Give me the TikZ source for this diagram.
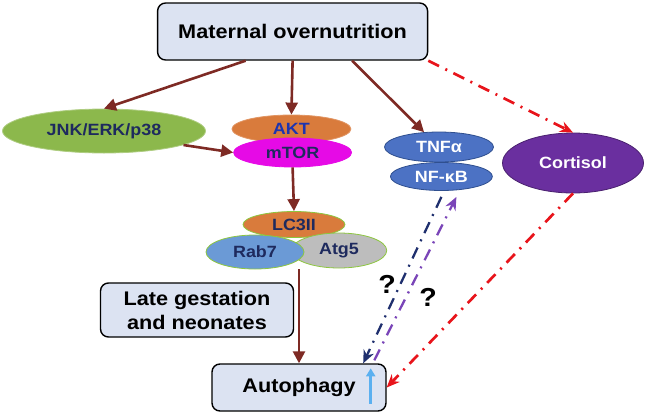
\documentclass[tikz,border=0pt]{standalone}
\usepackage{fontspec}
\setmainfont[FakeStretch=1.1]{Liberation Sans}
\usetikzlibrary{shapes.geometric,arrows.meta}
\definecolor{boxfill}{HTML}{DCE3F2}
\definecolor{linkred}{HTML}{7E2A24}
\definecolor{alarmred}{HTML}{E8141B}
\definecolor{navytext}{HTML}{1E2A5E}
\definecolor{aktblue}{HTML}{1C34B0}
\definecolor{jnkgreen}{HTML}{8CB84C}
\definecolor{aktorange}{HTML}{D97B3C}
\definecolor{mtormag}{HTML}{E60AE6}
\definecolor{tnfblue}{HTML}{4C72C4}
\definecolor{tnfedge}{HTML}{2F4F8F}
\definecolor{cortpurple}{HTML}{6A2F9F}
\definecolor{rabblue}{HTML}{6B9AD6}
\definecolor{atggray}{HTML}{BDBDBD}
\definecolor{leafgreen}{HTML}{8DC63F}
\definecolor{navydash}{HTML}{1F2F6E}
\definecolor{violetdash}{HTML}{7A45B8}
\definecolor{upblue}{HTML}{5BB0F0}
\begin{document}
\begin{tikzpicture}[x=1pt,y=-1pt,line join=round,
	box/.style={draw=black,line width=1.4pt,rounded corners=8pt,fill=boxfill,inner sep=0pt,
		font=\fontsize{19.7}{24}\selectfont\bfseries,align=center},
	blob/.style={ellipse,inner sep=0pt,line width=0.8pt,font=\fontsize{16.3}{18}\selectfont\bfseries},
	link/.style={draw=linkred,line width=2.6pt,-{Triangle[length=12pt,width=12pt]}},
	dashdot/.style={line width=2.3pt,dash pattern=on 12pt off 7pt on 2pt off 7pt,
		-{Stealth[length=13pt,width=11pt]}},
	query/.style={font=\fontsize{26}{28}\selectfont\bfseries},
	]
	\useasboundingbox (0,0) rectangle (648,413);
	% boxes
	\node[box,minimum width=270pt,minimum height=57pt] (maternal) at (292.6,31.5) {Maternal overnutrition};
	\node[box,minimum width=193pt,minimum height=54pt] (late) at (197,310) {Late gestation\\and neonates};
	\node[box,minimum width=174pt,minimum height=47pt] (autophagy) at (299,387.5) {Autophagy};
	% pathway blobs
	\node[blob,fill=jnkgreen,draw=jnkgreen!70!white,text=navytext,minimum width=203pt,minimum height=44pt] (jnk) at (104,131) {JNK/ERK/p38};
	\node[blob,fill=aktorange,draw=aktorange!80!white,text=aktblue,minimum width=119pt,minimum height=28pt] (akt) at (291.4,129) {AKT};
	\node[blob,fill=mtormag,draw=mtormag,text=navytext,minimum width=118pt,minimum height=29pt] (mtor) at (292.6,152.5) {mTOR};
	\node[blob,fill=tnfblue,draw=tnfedge,text=white,minimum width=109pt,minimum height=30pt] (tnf) at (439,147) {TNFα};
	\node[blob,fill=tnfblue,draw=tnfedge,text=white,minimum width=102pt,minimum height=28pt] (nfkb) at (441.4,176.5) {NF-κB};
	\node[blob,fill=cortpurple,draw=cortpurple!70!black,text=white,minimum width=141pt,minimum height=60pt] (cortisol) at (573,163) {Cortisol};
	\node[blob,fill=aktorange,draw=leafgreen,text=navytext,minimum width=102pt,minimum height=26pt] (lc3) at (294,224.5) {LC3II};
	\node[blob,fill=atggray,draw=leafgreen,text=navytext,minimum width=95.5pt,minimum height=35pt] (atg5) at (339,250.5) {Atg5};
	\node[blob,fill=rabblue,draw=leafgreen,text=navytext,minimum width=98pt,minimum height=34pt] (rab7) at (255,252) {Rab7};
	% solid links
	\draw[link] ([xshift=-47pt]maternal.south) -- (jnk.north);
	\draw[link] (maternal.south) -- (akt.north);
	\draw[link] ([xshift=59.5pt]maternal.south) -- (tnf);
	\draw[link] (jnk.-10) -- (mtor.west);
	\draw[link] (mtor.south) -- (lc3.north);
	\draw[link] (autophagy.north |- rab7.south) -- (autophagy.north);
	% dash-dotted links
	\draw[dashdot,alarmred,line width=2.7pt] (maternal.south east) -- (cortisol.north);
	\draw[dashdot,alarmred,line width=2.7pt] (cortisol.south) -- (autophagy.east);
	\draw[dashdot,navydash] ([yshift=-6pt]nfkb.south) -- ([xshift=-23.5pt]autophagy.north east);
	\draw[dashdot,violetdash] ([xshift=-12.4pt,yshift=3pt]autophagy.north east) -- ([xshift=15pt,yshift=-6pt]nfkb.south);
	\node[query] (q1) at (387,284) {?};
	\node[query] (q2) at (428,297) {?};
	% rise in autophagy
	\draw[upblue,line width=3.2pt,-{Triangle[length=8pt,width=9pt]}] ([xshift=-16pt,yshift=8pt]autophagy.south east) -- ([xshift=-16pt,yshift=-5pt]autophagy.north east);
\end{tikzpicture}
\end{document}
